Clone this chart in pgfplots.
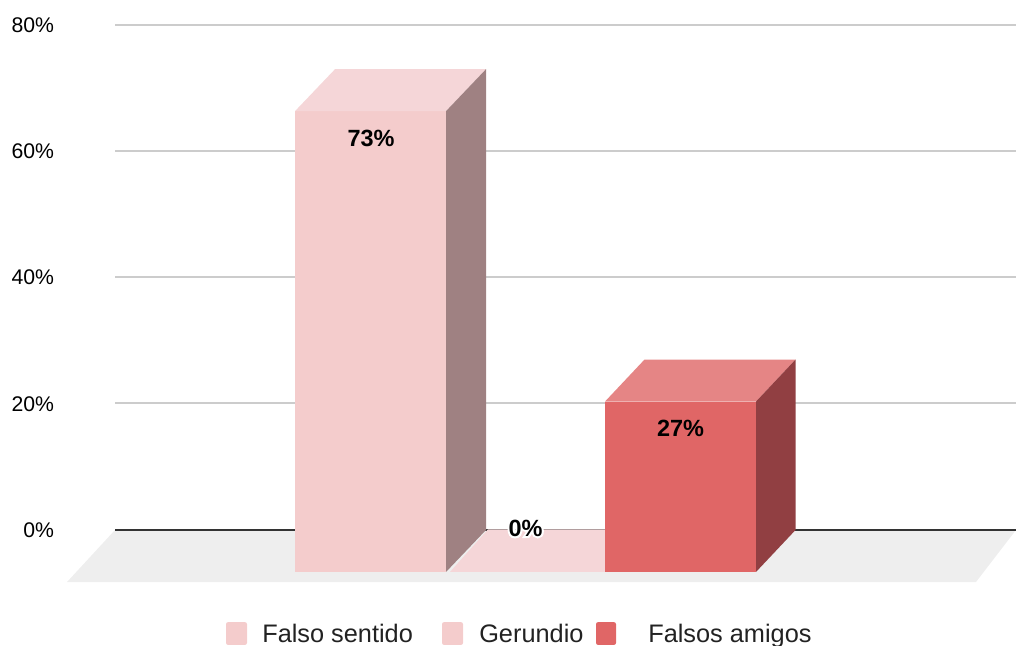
\documentclass[border=0pt]{standalone}
\usepackage{fontspec}
\setmainfont{Liberation Sans}
\usepackage{pgfplots}
\pgfplotsset{compat=1.18}
\definecolor{pinkF}{HTML}{F4CCCC}
\definecolor{pinkT}{HTML}{F5D6D8}
\definecolor{pinkS}{HTML}{9F8182}
\definecolor{redF}{HTML}{E06666}
\definecolor{redT}{HTML}{E58585}
\definecolor{redS}{HTML}{913F42}
\definecolor{floorc}{HTML}{EEEEEE}
\definecolor{gridc}{HTML}{CCCCCC}
\definecolor{zeroc}{HTML}{333333}
\definecolor{legtxt}{HTML}{222222}
\newcommand{\halo}[1]{\rlap{\special{pdf:code 1 Tr 1 1 1 RG 3 w}#1\special{pdf:code 0 Tr 0 0 0 RG}}#1}
\begin{document}
\begin{tikzpicture}
\begin{axis}[
  scale only axis, width=762pt, height=484.5pt,
  xmin=0, xmax=1016, ymin=-18.376, ymax=83.96,
  axis line style={draw=none}, tick style={draw=none},
  xtick=\empty,
  ytick={0,20,40,60,80},
  yticklabels={0\%,20\%,40\%,60\%,80\%},
  yticklabel style={anchor=east, inner sep=0pt, xshift=40.7pt, font=\fontsize{15.9pt}{18pt}\selectfont},
]
% floor
\addplot[draw=none, fill=floorc] coordinates {(115,0) (1016,0) (976,-8.24) (67,-8.24)} --cycle;
% grid
\addplot[gridc, line width=1.5pt] coordinates {(115,20.05) (1016,20.05)};
\addplot[gridc, line width=1.5pt] coordinates {(115,40.05) (1016,40.05)};
\addplot[gridc, line width=1.5pt] coordinates {(115,60.05) (1016,60.05)};
\addplot[gridc, line width=1.5pt] coordinates {(115,80) (1016,80)};
\addplot[zeroc, line width=1.3pt] coordinates {(115,0) (1016,0)};
% Gerundio 0%
\addplot[draw=none, fill=pinkT] coordinates {(450,-6.65) (488,0.1) (605,0.1) (605,-6.65)} --cycle;
% Falso sentido 73%
\addplot[draw=none, fill=pinkF] coordinates {(295,-6.65) (446,-6.65) (446,66.35) (295,66.35)} --cycle;
\addplot[draw=none, fill=pinkT] coordinates {(295,66.35) (446,66.35) (486,73) (335,73)} --cycle;
\addplot[draw=none, fill=pinkS] coordinates {(446,-6.65) (486,0) (486,73) (446,66.35)} --cycle;
% Falsos amigos 27%
\addplot[draw=none, fill=redF] coordinates {(605,-6.65) (756,-6.65) (756,20.35) (605,20.35)} --cycle;
\addplot[draw=none, fill=redT] coordinates {(605,20.35) (756,20.35) (795.5,27) (644.5,27)} --cycle;
\addplot[draw=none, fill=redS] coordinates {(756,-6.65) (795.5,0) (795.5,27) (756,20.35)} --cycle;
% labels
\node[font=\fontsize{17.6pt}{20pt}\selectfont\bfseries, inner sep=0pt] at (axis cs:371,62.1) {73\%};
\node[font=\fontsize{17.6pt}{20pt}\selectfont\bfseries, inner sep=0pt] at (axis cs:680.5,16.1) {27\%};
\node[font=\fontsize{17.6pt}{20pt}\selectfont\bfseries, inner sep=0pt] at (axis cs:525.5,0.3) {\halo{0\%}};
% legend
\addplot[draw=none, fill=pinkF, rounded corners=1.5pt] coordinates {(226,-14.6) (247,-14.6) (247,-18.2) (226,-18.2)} --cycle;
\addplot[draw=none, fill=pinkF, rounded corners=1.5pt] coordinates {(442,-14.6) (463,-14.6) (463,-18.2) (442,-18.2)} --cycle;
\addplot[draw=none, fill=redF, rounded corners=1.5pt] coordinates {(596,-14.6) (616,-14.6) (616,-18.2) (596,-18.2)} --cycle;
\node[font=\fontsize{19pt}{22pt}\selectfont, text=legtxt, anchor=base west, inner sep=0pt] at (axis cs:262,-17.8) {Falso sentido};
\node[font=\fontsize{19pt}{22pt}\selectfont, text=legtxt, anchor=base west, inner sep=0pt] at (axis cs:479,-17.8) {Gerundio};
\node[font=\fontsize{19pt}{22pt}\selectfont, text=legtxt, anchor=base west, inner sep=0pt] at (axis cs:648,-17.8) {Falsos amigos};
\end{axis}
\end{tikzpicture}
\end{document}
